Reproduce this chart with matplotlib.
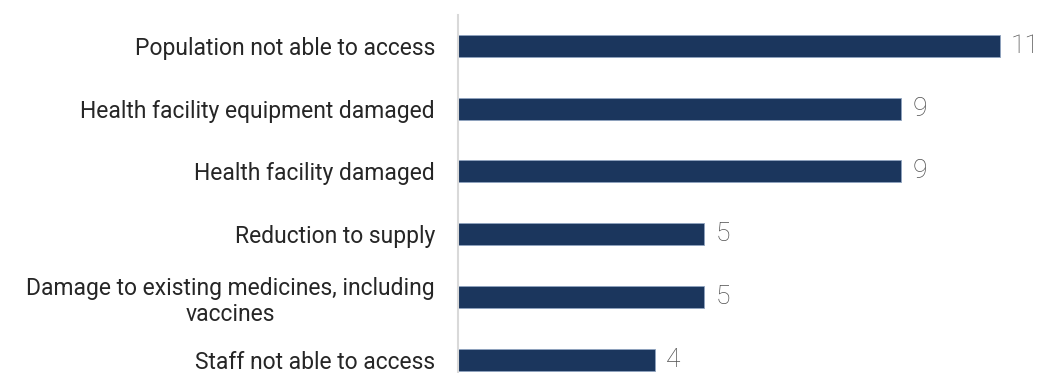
import matplotlib
matplotlib.use("Agg")
import matplotlib.pyplot as plt

# Categories and counts, top to bottom
categorias = [
    "Population not able to access",
    "Health facility equipment damaged",
    "Health facility damaged",
    "Reduction to supply",
    "Damage to existing medicines, including\nvaccines",
    "Staff not able to access",
]
valores = [11, 9, 9, 5, 5, 4]

color_barra = "#1B365D"
color_valor = "#4f4f4f"

plt.rcParams["font.family"] = ["Roboto", "DejaVu Sans"]

fig = plt.figure(figsize=(10.38, 3.73), dpi=100)
ax = fig.add_axes([458 / 1038, 0, 580 / 1038, 358 / 373])

pos = list(range(len(categorias)))
ax.barh(pos, valores, height=0.35, color=color_barra, edgecolor="#8FA3BF", linewidth=0.6)

for y, v in zip(pos, valores):
    ax.text(v + 0.22, y, str(v), va="center", ha="left",
            fontsize=19, color=color_valor, fontweight="light")

ax.set_xlim(0, 580 / 49.27)
ax.set_ylim(len(categorias) - 1 + 0.21, -0.49)

ax.set_yticks(pos)
ax.set_yticklabels(categorias, fontsize=16.5, color="#262626", multialignment="center")
ax.tick_params(axis="y", length=0, pad=16.5)
ax.set_xticks([])

for lado in ["top", "right", "bottom"]:
    ax.spines[lado].set_visible(False)
ax.spines["left"].set_color("#D9D9D9")
ax.spines["left"].set_linewidth(1.5)

fig.savefig("out.png", dpi=100)
